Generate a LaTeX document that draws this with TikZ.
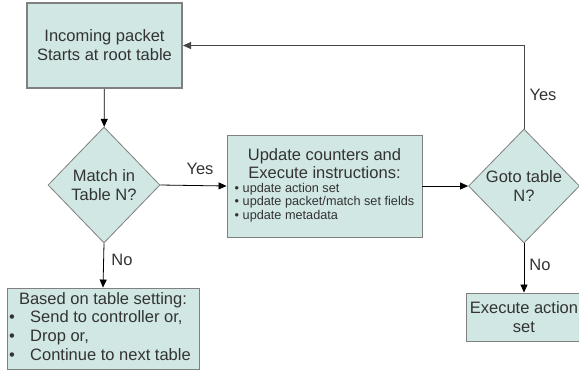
\documentclass[tikz,border=0pt]{standalone}
\usepackage{fontspec}
\setmainfont{Liberation Sans}
\usetikzlibrary{shapes.geometric,arrows.meta}
\definecolor{boxfill}{RGB}{208,231,228}
\definecolor{boxline}{RGB}{128,128,128}
\definecolor{txt}{RGB}{51,51,51}
\definecolor{loopline}{RGB}{70,70,70}
\begin{document}
\begin{tikzpicture}[x=1pt,y=-1pt,
  box/.style={draw=boxline,fill=boxfill,line width=0.9pt,inner sep=0pt,text=txt,
    font=\fontsize{16.5}{19}\selectfont,align=center},
  dia/.style={diamond,draw=boxline,fill=boxfill,line width=0.8pt,inner sep=0pt},
  arr/.style={-{Triangle[length=8pt,width=7pt]},line width=0.8pt,draw=black},
  lbl/.style={text=txt,font=\fontsize{16.5}{19}\selectfont,inner sep=0pt,align=center}]
\useasboundingbox (0,0) rectangle (579,373);

\node[box,line width=2pt,minimum width=155pt,minimum height=85pt] (start) at (104.5,45.5)
  {Incoming packet\\Starts at root table};

\node[dia,minimum width=112pt,minimum height=116pt,
  label={[lbl]center:{Match in\\Table N?}}] (match) at (104,185) {};

\node[box,minimum width=195pt,minimum height=102pt] (upd) at (324.5,186)
  {\fontsize{16.5}{17.7}\selectfont\begin{tabular}{@{}c@{}}Update counters and\\Execute instructions:\\[-4pt]
   {\fontsize{12.7}{13.5}\selectfont\begin{tabular}[t]{@{}l@{}}\textbullet\ update action set\\
   \textbullet\ update packet/match set fields\\
   \textbullet\ update metadata\end{tabular}}\end{tabular}};

\node[dia,minimum width=111pt,minimum height=114pt,
  label={[lbl]center:{Goto table\\N?}}] (goto) at (524,186) {};

\node[box,minimum width=192pt,minimum height=81pt] (based) at (103,328.5)
  {\fontsize{16.5}{18.7}\selectfont\begin{tabular}{@{}l@{\hspace{6pt}}}
   \multicolumn{1}{@{}c@{\hspace{6pt}}}{\hspace{6pt}Based on table setting:}\\
   \makebox[21pt][l]{\textbullet}Send to controller or,\\
   \makebox[21pt][l]{\textbullet}Drop or,\\
   \makebox[21pt][l]{\textbullet}Continue to next table\end{tabular}};

\node[box,minimum width=116pt,minimum height=48pt] (exec) at (524,317)
  {Execute action\\set};

\draw[arr] (start) -- (match);
\draw[arr] (match.east) -- (upd.west);
\draw[arr] (match.south) -- (based.north);
\draw[arr] (upd.east) -- (goto.west);
\draw[arr] (goto.south) -- (exec.north);
\draw[arr,draw=loopline] (goto.north) -- (goto.north |- start.east) -- (start.east);

\node[lbl] (yes1) at (200,169) {Yes};
\node[lbl] (no1) at (122,260) {No};
\node[lbl] (yes2) at (543,95) {Yes};
\node[lbl] (no2) at (540,265) {No};
\end{tikzpicture}
\end{document}
